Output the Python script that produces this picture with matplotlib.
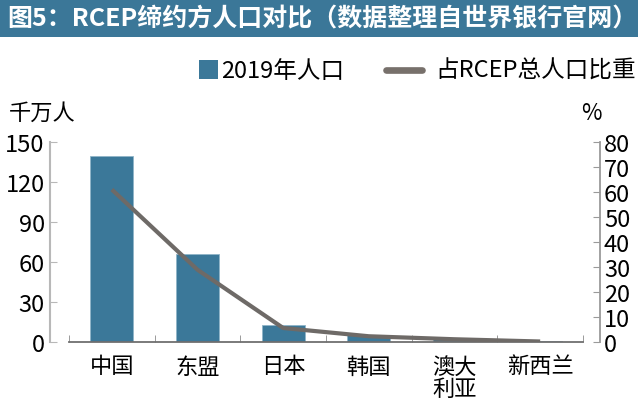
import numpy as np
import matplotlib
matplotlib.use('Agg')
import matplotlib.pyplot as plt
from matplotlib.lines import Line2D
from matplotlib.patches import Rectangle

plt.rcParams['font.family'] = ['Noto Sans CJK SC', 'DejaVu Sans']

countries = ['中国', '东盟', '日本', '韩国', '澳大\n利亚', '新西兰']
population = [139.8, 66.0, 12.6, 5.2, 2.5, 0.5]      # 千万人
share = [61.0, 28.9, 5.6, 2.3, 1.1, 0.2]              # %
legend_labels = ['2019年人口', '占RCEP总人口比重']

bar_color = '#3b7899'
line_color = '#6e6a67'
W, H = 638, 402

fig = plt.figure(figsize=(W / 100, H / 100), dpi=100)

# title bar
fig.patches.append(Rectangle((0, 1 - 38 / H), 1, 38 / H, transform=fig.transFigure,
                             facecolor='#3b7798', edgecolor='none', zorder=0))
fig.text(7 / W, 1 - 19 / H, '图5：RCEP缔约方人口对比（数据整理自世界银行官网）',
         color='white', fontsize=18, fontweight='bold', va='center', ha='left')

ax = fig.add_axes([69 / W, (H - 343) / H, 514 / W, 200 / H])
x = np.arange(len(countries))
ax.bar(x, population, width=0.5, color=bar_color, edgecolor='#8fb4c8', linewidth=0.6, zorder=2)
ax.set_xlim(-0.5, len(countries) - 0.5)
ax.set_ylim(0, 150)
ax.set_yticks([0, 30, 60, 90, 120, 150])

ax2 = ax.twinx()
ax2.plot(x, share, color=line_color, linewidth=3, solid_capstyle='butt', zorder=3)
ax2.set_ylim(0, 80)
ax2.set_yticks(range(0, 81, 10))

for a in (ax, ax2):
    a.spines['top'].set_visible(False)
    a.patch.set_visible(False)
ax.spines['right'].set_visible(False)
ax2.spines['left'].set_visible(False)
ax2.spines['bottom'].set_visible(False)

ax.spines['left'].set_position(('outward', 13.5))
ax.spines['left'].set_color('#b8b8b8')
ax.spines['left'].set_linewidth(1.5)
ax.spines['bottom'].set_color('#6f6f6f')
ax.spines['bottom'].set_linewidth(1.3)
ax2.spines['right'].set_position(('outward', 12))
ax2.spines['right'].set_color('#9a9a9a')
ax2.spines['right'].set_linewidth(1.3)

ax.set_xticks(x)
ax.set_xticklabels(countries, fontsize=16, linespacing=0.95, va='top')
ax.tick_params(axis='x', which='major', length=0, pad=9)
ax.set_xticks(np.arange(-0.5, len(countries), 1), minor=True)
ax.tick_params(axis='x', which='minor', direction='in', length=5, color='#8a8a8a')
ax.tick_params(axis='y', direction='in', length=5, color='#b8b8b8', labelsize=17, pad=4)
ax2.tick_params(axis='y', direction='in', length=5, color='#9a9a9a', labelsize=17, pad=3)

fig.text(9 / W, 1 - 113 / H, '千万人', fontsize=16, va='center', ha='left')
fig.text(581 / W, 1 - 113 / H, '%', fontsize=16, va='center', ha='left')

# legend, drawn by hand to place the swatches tight to the text
ly = 1 - 71 / H
fig.patches.append(Rectangle((199 / W, 1 - 80 / H), 19 / W, 19 / H, transform=fig.transFigure,
                             facecolor=bar_color, edgecolor='none'))
fig.text(221 / W, ly, legend_labels[0], fontsize=17, va='center', ha='left')
fig.lines.append(Line2D([386 / W, 422 / W], [ly, ly], transform=fig.transFigure,
                        color='#77706b', linewidth=4.8, solid_capstyle='round'))
fig.text(435 / W, ly, legend_labels[1], fontsize=17, va='center', ha='left')

fig.savefig('out.png', dpi=100)
